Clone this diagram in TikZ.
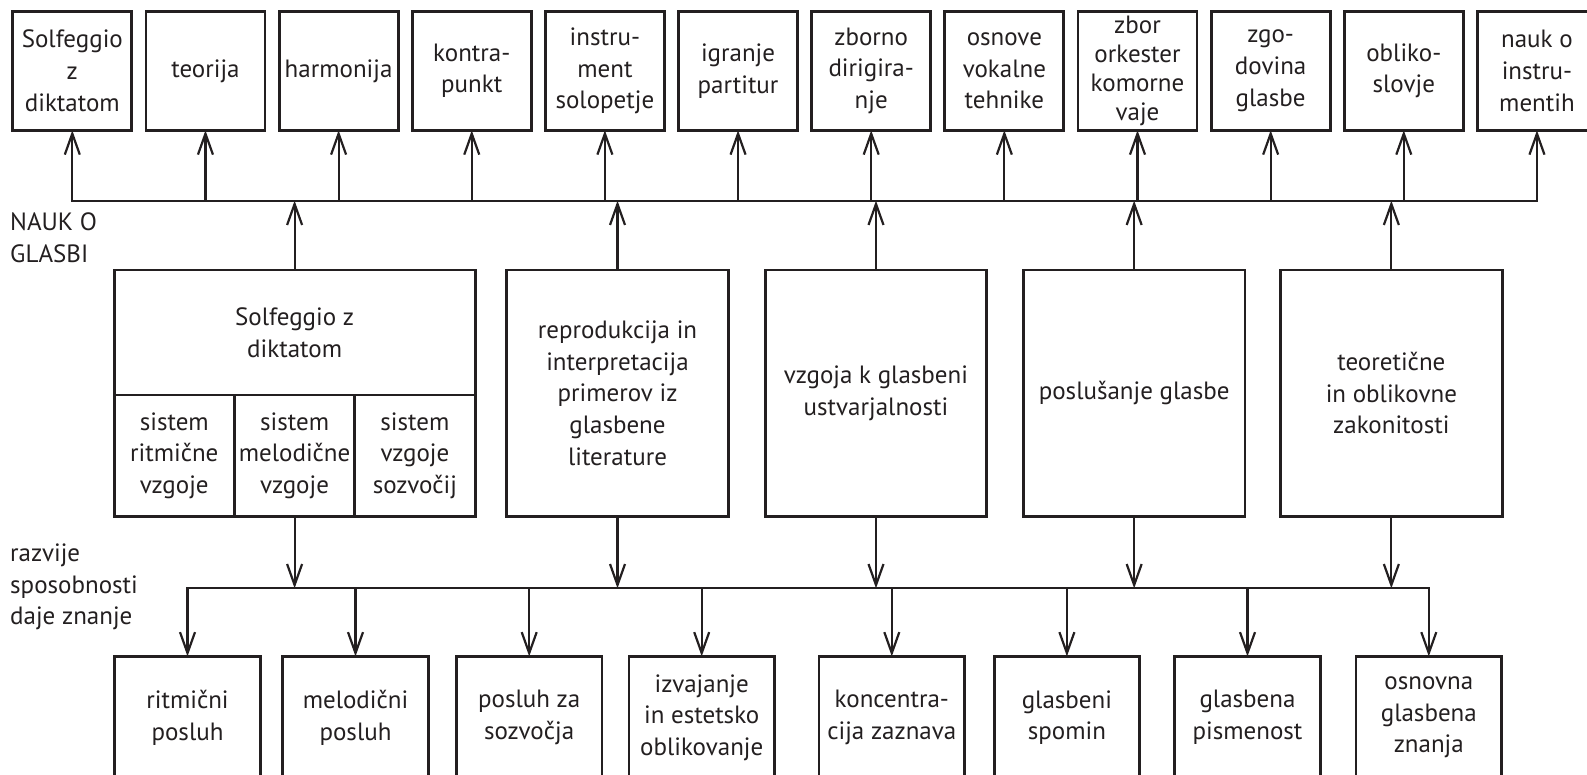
\documentclass[tikz,border=0pt]{standalone}
\usepackage{fontspec}
\setmainfont{PT Sans}
\usetikzlibrary{arrows.meta}
\definecolor{ink}{RGB}{35,31,32}
\begin{document}
\begin{tikzpicture}[x=1pt,y=-1pt,
  every node/.style={font=\fontsize{25}{31.7}\selectfont, text=ink},
  box/.style={draw=ink, line width=2.8pt, inner sep=0pt, outer sep=0pt, align=center},
  topbox/.style={box, minimum width=119pt, minimum height=119pt},
  midbox/.style={box, minimum width=221.5pt, minimum height=246.3pt},
  cell/.style={box, minimum width=120.33pt, minimum height=121.3pt},
  headbox/.style={box, minimum width=361pt, minimum height=125pt},
  botbox/.style={box, minimum width=145.6pt, minimum height=122.2pt},
  conn/.style={draw=ink, line width=2.2pt},
  bus/.style={conn, line cap=rect},
  arr/.style={conn, -{Straight Barb[length=21pt,width=15pt]}},
  lbl/.style={anchor=west, align=left, inner sep=0pt}
]
\useasboundingbox (0,0) rectangle (1587,775);
\clip (0,0) rectangle (1587,775);

% top row
\node[topbox] (t1)  at (72.3,70.85)   {Solfeggio\\z\\diktatom};
\node[topbox] (t2)  at (205.45,70.85) {teorija};
\node[topbox] (t3)  at (338.6,70.85)  {harmonija};
\node[topbox] (t4)  at (471.75,70.85) {kontra-\\punkt};
\node[topbox] (t5)  at (604.9,70.85)  {instru-\\ment\\solopetje};
\node[topbox] (t6)  at (738.05,70.85) {igranje\\partitur};
\node[topbox] (t7)  at (871.2,70.85)  {zborno\\dirigira-\\nje};
\node[topbox] (t8)  at (1004.35,70.85) {osnove\\vokalne\\tehnike};
\node[topbox, font=\fontsize{25}{29}\selectfont] (t9) at (1137.5,70.85) {zbor\\orkester\\komorne\\vaje};
\node[topbox] (t10) at (1270.65,70.85) {zgo-\\dovina\\glasbe};
\node[topbox] (t11) at (1403.8,70.85) {obliko-\\slovje};
\node[topbox] (t12) at (1536.95,70.85) {nauk o\\instru-\\mentih};

% middle row
\node[headbox] (A)  at (294.6,332.5) {Solfeggio z\\diktatom};
\node[cell] (A1) at (174.27,455.65) {sistem\\ritmične\\vzgoje};
\node[cell] (A2) at (294.6,455.65)  {sistem\\melodične\\vzgoje};
\node[cell] (A3) at (414.93,455.65) {sistem\\vzgoje\\sozvočij};
\node[midbox] (B) at (617.5,393.15)  {reprodukcija in\\interpretacija\\primerov iz\\glasbene\\literature};
\node[midbox] (C) at (876,393.15)    {vzgoja k glasbeni\\ustvarjalnosti};
\node[midbox] (D) at (1134.15,393.15) {poslušanje glasbe};
\node[midbox] (E) at (1391.35,393.15) {teoretične\\in oblikovne\\zakonitosti};

% bottom row
\node[botbox] (b1) at (187.5,717.5)  {ritmični\\posluh};
\node[botbox] (b2) at (355.5,717.5)  {melodični\\posluh};
\node[botbox] (b3) at (529.2,717.5)  {posluh za\\sozvočja};
\node[botbox] (b4) at (701.7,717.5)  {izvajanje\\in estetsko\\oblikovanje};
\node[botbox] (b5) at (891.8,717.5)  {koncentra-\\cija zaznava};
\node[botbox] (b6) at (1066.9,717.5) {glasbeni\\spomin};
\node[botbox] (b7) at (1247.5,717.5) {glasbena\\pismenost};
\node[botbox] (b8) at (1428.8,717.5) {osnovna\\glasbena\\znanja};

% side labels
\node[lbl] (nauk) at (10,238) {NAUK O\\GLASBI};
\node[lbl] (razv) at (10,587) {razvije\\sposobnosti\\daje znanje};

% upper bus
\coordinate (busT) at (0,200.7);
\draw[bus] (t1.south |- busT) -- (t12.south |- busT);
\foreach \n in {t1,t2,t3,t4,t5,t6,t7,t8,t9,t10,t11,t12}
  \draw[arr] (\n.south |- busT) -- (\n.south);
\foreach \n in {A,B,C,D,E}
  \draw[arr] (\n.north) -- (\n.north |- busT);

% lower bus
\coordinate (busB) at (0,588.3);
\draw[bus] (b1.north |- busB) -- (b8.north |- busB);
\foreach \n in {A2,B,C,D,E}
  \draw[arr] (\n.south) -- (\n.south |- busB);
\foreach \n in {b1,b2,b3,b4,b5,b6,b7,b8}
  \draw[arr] (\n.north |- busB) -- (\n.north);
\end{tikzpicture}
\end{document}
